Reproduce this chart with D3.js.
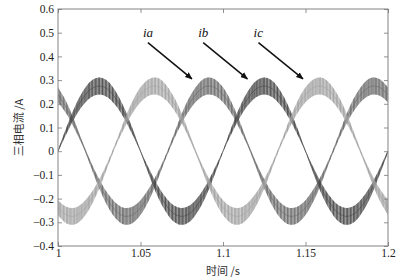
<!DOCTYPE html>
<html lang="zh">
<head>
<meta charset="UTF-8">
<title>三相电流</title>
<script src="https://d3js.org/d3.v7.min.js"></script>
<style>
    body { margin: 0; background: #fff; }
    svg { display: block; }
    .tick text { font-family: "Liberation Serif", "Times New Roman", serif; font-size: 11.5px; fill: #222; }
    .tick line { stroke: #777; stroke-width: 0.8px; }
    .lbl { font-family: "Noto Sans CJK SC", sans-serif; font-size: 11px; fill: #333; }
    .ann { font-family: "Liberation Serif", serif; font-style: italic; font-size: 13px; fill: #111; }
</style>
</head>
<body>
<svg id="chart"></svg>
<script>
// sample times (s) and the three phase currents (A)
const times = [1.000,1.005,1.010,1.015,1.020,1.025,1.030,1.035,1.040,1.045,
               1.050,1.055,1.060,1.065,1.070,1.075,1.080,1.085,1.090,1.095,
               1.100,1.105,1.110,1.115,1.120,1.125,1.130,1.135,1.140,1.145,
               1.150,1.155,1.160,1.165,1.170,1.175,1.180,1.185,1.190,1.195,1.200];
const ia = [0.238,0.184,0.112,0.029,-0.057,-0.138,-0.204,-0.251,-0.274,-0.269,
            -0.238,-0.184,-0.112,-0.029,0.057,0.138,0.204,0.251,0.274,0.269,
            0.238,0.184,0.112,0.029,-0.057,-0.138,-0.204,-0.251,-0.274,-0.269,
            -0.238,-0.184,-0.112,-0.029,0.057,0.138,0.204,0.251,0.274,0.269,0.238];
const ib = [0.000,0.085,0.162,0.222,0.262,0.275,0.262,0.222,0.162,0.085,
            0.000,-0.085,-0.162,-0.222,-0.262,-0.275,-0.262,-0.222,-0.162,-0.085,
            0.000,0.085,0.162,0.222,0.262,0.275,0.262,0.222,0.162,0.085,
            0.000,-0.085,-0.162,-0.222,-0.262,-0.275,-0.262,-0.222,-0.162,-0.085,0.000];
const ic = [-0.238,-0.269,-0.274,-0.251,-0.204,-0.138,-0.057,0.029,0.112,0.184,
            0.238,0.269,0.274,0.251,0.204,0.138,0.057,-0.029,-0.112,-0.184,
            -0.238,-0.269,-0.274,-0.251,-0.204,-0.138,-0.057,0.029,0.112,0.184,
            0.238,0.269,0.274,0.251,0.204,0.138,0.057,-0.029,-0.112,-0.184,-0.238];

const xTicks = [1, 1.05, 1.1, 1.15, 1.2];
const yTicks = [-0.4, -0.3, -0.2, -0.1, 0, 0.1, 0.2, 0.3, 0.4, 0.5, 0.6];

// annotation labels: text position and arrow start/end in data units
const notes = [
    {name: "ia", tx: 1.0515, ty: 0.482, x0: 1.0545, y0: 0.458, x1: 1.0812, y1: 0.305},
    {name: "ib", tx: 1.0850, ty: 0.482, x0: 1.0880, y0: 0.458, x1: 1.1148, y1: 0.305},
    {name: "ic", tx: 1.1185, ty: 0.482, x0: 1.1215, y0: 0.458, x1: 1.1485, y1: 0.305}
];

const width = 403, height = 279;
const margin = {top: 9, right: 15, bottom: 33, left: 58};

const svg = d3.select("#chart").attr("width", width).attr("height", height);

const x = d3.scaleLinear().domain([1, 1.2]).range([margin.left, width - margin.right]);
const y = d3.scaleLinear().domain([-0.4, 0.6]).range([height - margin.bottom, margin.top]);

const series = [
    {key: "ia", vals: ia, color: "#666666"},
    {key: "ib", vals: ib, color: "#444444"},
    {key: "ic", vals: ic, color: "#a0a0a0"}
];

const defs = svg.append("defs");
defs.append("clipPath").attr("id", "plotclip")
    .append("rect")
    .attr("x", margin.left).attr("y", margin.top)
    .attr("width", x(1.2) - x(1)).attr("height", y(-0.4) - y(0.6));

// vertical hatching (two periods overlaid) to look like the switching ripple
series.forEach(s => {
    const p = defs.append("pattern")
        .attr("id", "pat-" + s.key)
        .attr("patternUnits", "userSpaceOnUse")
        .attr("width", 1.4).attr("height", 6);
    p.append("rect").attr("width", 1.4).attr("height", 6)
        .attr("fill", s.color).attr("opacity", 0.5);
    p.append("rect").attr("width", 0.6).attr("height", 6)
        .attr("fill", s.color).attr("opacity", 0.8);
    const q = defs.append("pattern")
        .attr("id", "pat2-" + s.key)
        .attr("patternUnits", "userSpaceOnUse")
        .attr("width", 3.3).attr("height", 6);
    q.append("rect").attr("width", 0.9).attr("height", 6)
        .attr("fill", s.color).attr("opacity", 0.55);
});

// band half width grows with the current magnitude
const ripple = v => 0.004 + 0.115 * Math.abs(v);

const g = svg.append("g").attr("clip-path", "url(#plotclip)");
series.forEach(s => {
    const pts = times.map((t, i) => ({t: t, v: s.vals[i]}));
    const area = d3.area()
        .x(d => x(d.t))
        .y0(d => y(d.v - ripple(d.v)))
        .y1(d => y(d.v + ripple(d.v)))
        .curve(d3.curveCatmullRom);
    g.append("path").datum(pts)
        .attr("d", area)
        .attr("fill", "url(#pat-" + s.key + ")");
    g.append("path").datum(pts)
        .attr("d", area)
        .attr("fill", "url(#pat2-" + s.key + ")");
    const line = d3.line().x(d => x(d.t)).y(d => y(d.v)).curve(d3.curveCatmullRom);
    g.append("path").datum(pts)
        .attr("d", line)
        .attr("fill", "none")
        .attr("stroke", s.color)
        .attr("stroke-width", 0.9)
        .attr("opacity", 0.6);
});

const fmtY = d => d === 0 ? "0" : (d < 0 ? "\u2212" : "") + Math.abs(d).toFixed(1);
const fmtX = d => String(+d.toFixed(2));

svg.append("g")
    .attr("transform", `translate(0,${y(-0.4)})`)
    .call(d3.axisBottom(x).tickValues(xTicks).tickFormat(fmtX).tickSize(-4).tickPadding(3))
    .call(a => a.select(".domain").remove());
svg.append("g")
    .attr("transform", `translate(0,${y(0.6)})`)
    .call(d3.axisTop(x).tickValues(xTicks).tickFormat("").tickSize(-4))
    .call(a => a.select(".domain").remove());
svg.append("g")
    .attr("transform", `translate(${x(1)},0)`)
    .call(d3.axisLeft(y).tickValues(yTicks).tickFormat(fmtY).tickSize(-4).tickPadding(4))
    .call(a => a.select(".domain").remove());
svg.append("g")
    .attr("transform", `translate(${x(1.2)},0)`)
    .call(d3.axisRight(y).tickValues(yTicks).tickFormat("").tickSize(-4))
    .call(a => a.select(".domain").remove());

svg.append("rect")
    .attr("x", x(1)).attr("y", y(0.6))
    .attr("width", x(1.2) - x(1)).attr("height", y(-0.4) - y(0.6))
    .attr("fill", "none").attr("stroke", "#777").attr("stroke-width", 0.9);

// annotations
defs.append("marker")
    .attr("id", "arrow")
    .attr("viewBox", "0 0 10 10")
    .attr("refX", 9).attr("refY", 5)
    .attr("markerWidth", 5).attr("markerHeight", 5)
    .attr("orient", "auto")
    .append("path").attr("d", "M0,1L10,5L0,9Z").attr("fill", "#111");

notes.forEach(n => {
    svg.append("text").attr("class", "ann")
        .attr("x", x(n.tx)).attr("y", y(n.ty))
        .text(n.name);
    svg.append("line")
        .attr("x1", x(n.x0)).attr("y1", y(n.y0))
        .attr("x2", x(n.x1)).attr("y2", y(n.y1))
        .attr("stroke", "#111").attr("stroke-width", 1.5)
        .attr("marker-end", "url(#arrow)");
});

svg.append("text").attr("class", "lbl")
    .attr("x", (x(1) + x(1.2)) / 2).attr("y", 275)
    .attr("text-anchor", "middle")
    .text("时间 /s");
svg.append("text").attr("class", "lbl")
    .attr("transform", `translate(23,${(y(0.6) + y(-0.4)) / 2}) rotate(-90)`)
    .attr("text-anchor", "middle")
    .text("三相电流 /A");
</script>
</body>
</html>
